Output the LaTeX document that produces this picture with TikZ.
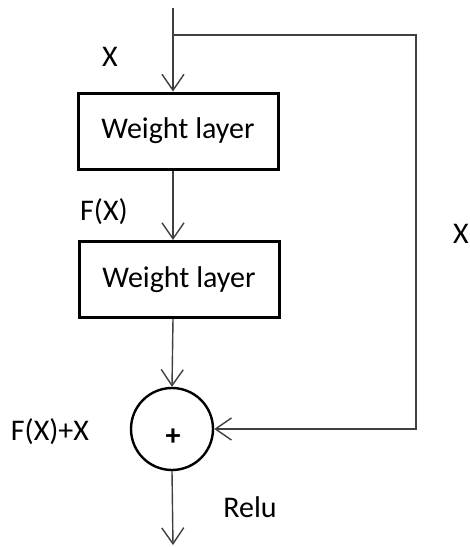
\documentclass[tikz,border=0pt]{standalone}
\usepackage{fontspec}
\setmainfont{Carlito}
\usetikzlibrary{arrows.meta}

\begin{document}
\begin{tikzpicture}[x=1pt,y=-1pt,
  layer/.style={draw,line width=3pt,minimum width=200pt,minimum height=76pt,inner sep=0pt,font=\fontsize{30}{34}\selectfont},
  flow/.style={line width=1.4pt,draw=black!75,-{Straight Barb[length=16pt,width=22pt,line width=1.4pt]}},
  lbl/.style={font=\fontsize{30}{34}\selectfont}]

\useasboundingbox (0,0) rectangle (470,547);

% Input and split point
\coordinate (in) at (173,8);
\coordinate (split) at (173,35);

% First weight layer
\node[layer] (w1) at (178,131) {Weight layer};

% Second weight layer
\node[layer] (w2) at (179,279.5) {Weight layer};

% Sum node
\node[draw,circle,line width=2.4pt,minimum size=82pt,inner sep=0pt] (sum) at (172,429) {};
\node[font=\bfseries\fontsize{30}{34}\selectfont] (plus) at (173,437) {+};

% Output end and skip corner
\coordinate (out) at (173,545);
\coordinate (skip) at (416,429);

% Main path
\draw[flow] (in) -- (in |- w1.north);
\draw[flow] (w1.south -| in) -- (w2.north -| in);
\draw[flow] (w2.south -| in) -- (sum.north);
\draw[flow] (sum.south) -- (out);

% Shortcut
\draw[flow] (split) -| (skip) -- (sum.east);

% Labels
\node[lbl] (lx) at (110,57) {X};
\node[lbl] (lfx) at (104,212) {F(X)};
\node[lbl] (lsx) at (461,234) {X};
\node[lbl] (lsum) at (50,432) {F(X)+X};
\node[lbl] (lrelu) at (250,507) {Relu};

\end{tikzpicture}
\end{document}
